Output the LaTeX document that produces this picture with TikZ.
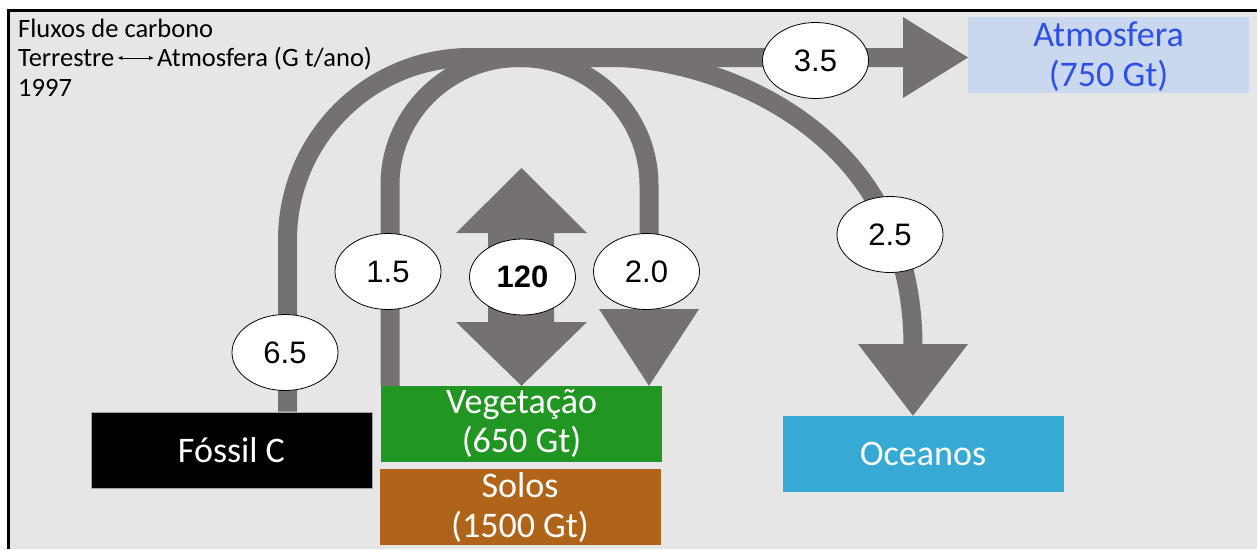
\documentclass[tikz,border=0pt]{standalone}
\usepackage{fontspec}
\setmainfont{Carlito}
\newfontfamily\arialf{Liberation Sans}
\usetikzlibrary{shapes.geometric,arrows.meta}
\definecolor{bgc}{RGB}{230,230,230}
\definecolor{flowc}{RGB}{118,113,113}
\definecolor{vegc}{RGB}{34,150,34}
\definecolor{soloc}{RGB}{176,100,26}
\definecolor{oceanc}{RGB}{54,169,212}
\definecolor{atmc}{RGB}{201,216,239}
\definecolor{atmtxt}{RGB}{45,80,230}
\begin{document}
\begin{tikzpicture}[x=1pt,y=-1pt,
  flow/.style={draw=flowc, line width=19pt},
  headshape/.style={fill=flowc},
  store/.style={rectangle, minimum width=281pt, minimum height=76pt, inner sep=0pt, text=white, font=\fontsize{36}{40}\selectfont},
  boxtxt/.style={anchor=base, inner sep=0pt, text=white, font=\fontsize{36}{40}\selectfont},
  lab/.style={ellipse, draw=black, line width=0.8pt, fill=white, minimum width=106pt, minimum height=76pt, inner sep=0pt, font=\arialf\fontsize{31}{31}\selectfont},
  ttl/.style={anchor=base west, inner sep=0pt, font=\fontsize{26.5}{30}\selectfont}]
\useasboundingbox (0,0) rectangle (1257,549);
\fill[bgc] (8,10) rectangle (1257,549);
\draw[line width=2.5pt] (8.5,549) -- (8.5,10.3) -- (1257,10.3);

% stores
\node[store, fill=black, draw=gray!70, line width=0.8pt] (fossil) at (231.5,450) {Fóssil C};
\node[store, fill=vegc] (veg) at (521.5,424) {};
\node[store, fill=soloc] (solos) at (520,507) {};
\node[store, fill=oceanc] (ocean) at (923,454) {Oceanos};
\node[store, fill=atmc] (atm) at (1108.5,55) {};

% flows
\coordinate (f0) at ([xshift=56pt]fossil.north);
\coordinate (v0) at ([xshift=-131.5pt]veg.north);
\coordinate (atip) at (968,57.5);
\coordinate (vtip) at ([xshift=127.5pt]veg.north);
\coordinate (otip) at ([xshift=-10pt]ocean.north);
\draw[flow] (f0) -- (287.5,240) .. controls (287.5,139.2) and (369.2,57.5) .. (470,57.5) -- (905,57.5);
\draw[flow] (v0) -- (390,185) .. controls (390,114.6) and (448,57.5) .. (519.5,57.5)
   .. controls (591,57.5) and (649,114.6) .. (649,185) -- (649,312);
\draw[flow] (620,57.5) .. controls (720,62) and (913,130) .. (913,347);
\fill[headshape] (903,17) -- (atip) -- (903,98) -- cycle;
\fill[headshape] (599,309) -- (699,309) -- (vtip) -- cycle;
\fill[headshape] (858,344) -- (968,344) -- (otip) -- cycle;
\fill[headshape] (521.5,168) -- (587,233) -- (554,233) -- (554,322) -- (587,322) -- (veg.north)
   -- (456,322) -- (488,322) -- (488,233) -- (456,233) -- cycle;

% labels
\node[lab] (l65) at (285,352.5) {6.5};
\node[lab] (l15) at (388,271.5) {1.5};
\node[lab, font=\arialf\bfseries\fontsize{31}{31}\selectfont] (l120) at (522.5,277) {120};
\node[lab] (l20) at (646.5,271.5) {2.0};
\node[lab] (l25) at (890,234.5) {2.5};
\node[lab] (l35) at (815.5,60.5) {3.5};

% store texts
\node[boxtxt] (vegt1) at (521.5,413) {Vegetação};
\node[boxtxt] (vegt2) at (521.5,452) {(650 Gt)};
\node[boxtxt] (solt1) at (520,497) {Solos};
\node[boxtxt] (solt2) at (520,537) {(1500 Gt)};
\node[boxtxt, text=atmtxt] (atmt1) at (1108.5,46) {Atmosfera};
\node[boxtxt, text=atmtxt] (atmt2) at (1108.5,86) {(750 Gt)};

% title
\node[ttl] (ti1) at (18,37) {Fluxos de carbono};
\node[ttl] (ti2) at (18,66) {Terrestre};
\node[ttl] (ti3) at (157,66) {Atmosfera (G t/ano)};
\node[ttl] (ti4) at (18,96) {1997};
\draw[{Latex[length=5pt,width=4.5pt]}-{Latex[length=5pt,width=4.5pt]}, line width=1pt]
  ([xshift=3pt,yshift=8pt]ti2.base east) -- ([xshift=-3pt,yshift=8pt]ti3.base west);
\end{tikzpicture}
\end{document}
